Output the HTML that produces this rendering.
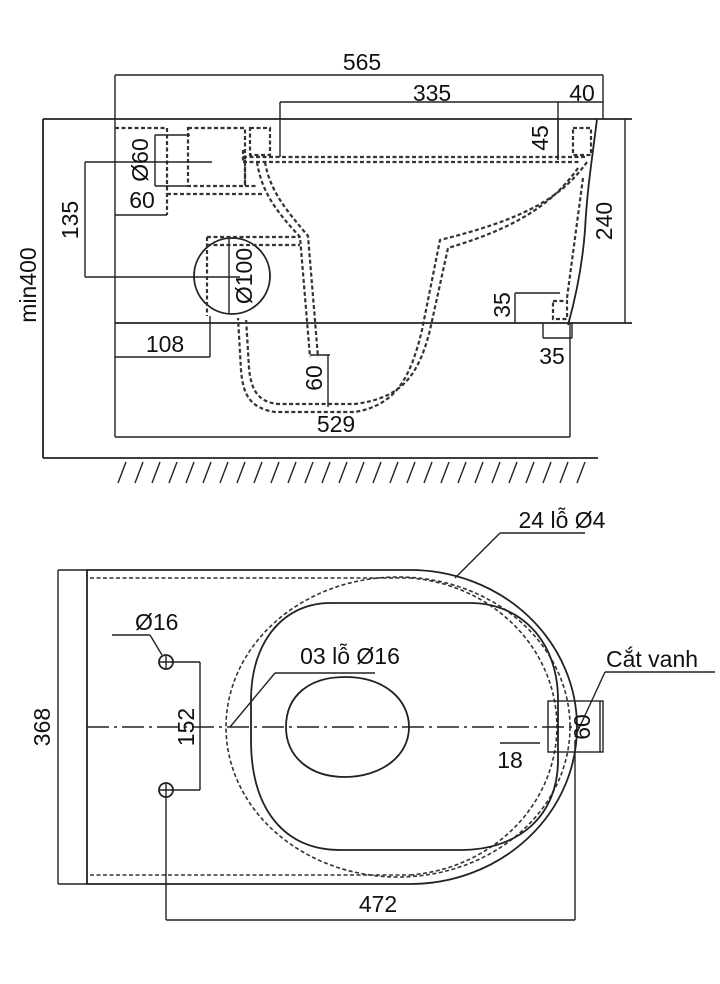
<!DOCTYPE html>
<html><head><meta charset="utf-8"><style>
html,body{margin:0;padding:0;background:#fff}
svg{display:block}
text{font-family:"Liberation Sans",sans-serif;font-size:23px;fill:#111}
.s{stroke:#222;stroke-width:1.8;fill:none}
.d{stroke:#333;stroke-width:2.2;fill:none;stroke-dasharray:4 2.5}
.t{stroke:#222;stroke-width:1.4;fill:none}
</style></head><body>
<svg width="720" height="984" viewBox="0 0 720 984" xmlns="http://www.w3.org/2000/svg">
<text x="362" y="70" text-anchor="middle">565</text>
<line class="t" x1="115" y1="75" x2="603" y2="75"/>
<text x="432" y="101" text-anchor="middle">335</text>
<line class="t" x1="280" y1="102" x2="558" y2="102"/>
<text x="582" y="101" text-anchor="middle">40</text>
<line class="t" x1="558" y1="102" x2="603" y2="102"/>
<line class="t" x1="115" y1="75" x2="115" y2="437"/>
<line class="t" x1="603" y1="75" x2="603" y2="119"/>
<line class="t" x1="280" y1="102" x2="280" y2="157"/>
<line class="t" x1="558" y1="102" x2="558" y2="160"/>
<line class="s" x1="43" y1="119" x2="632" y2="119"/>
<line class="s" x1="43" y1="119" x2="43" y2="458"/>
<line class="s" x1="43" y1="458" x2="598" y2="458"/>
<line class="t" x1="625" y1="119" x2="625" y2="323"/>
<line class="s" x1="115" y1="323" x2="632" y2="323"/>
<text transform="translate(612,221) rotate(-90)" text-anchor="middle">240</text>
<text transform="translate(36,285) rotate(-90)" text-anchor="middle">min400</text>
<g class="t">
<path d="M118 483 L126 462 M135 483 L143 462 M152 483 L160 462 M169 483 L177 462 M186 483 L194 462 M203 483 L211 462 M220 483 L228 462 M237 483 L245 462 M254 483 L262 462 M271 483 L279 462 M288 483 L296 462 M305 483 L313 462 M322 483 L330 462 M339 483 L347 462 M356 483 L364 462 M373 483 L381 462 M390 483 L398 462 M407 483 L415 462 M424 483 L432 462 M441 483 L449 462 M458 483 L466 462 M475 483 L483 462 M492 483 L500 462 M509 483 L517 462 M526 483 L534 462 M543 483 L551 462 M560 483 L568 462 M577 483 L585 462"/>
</g>
<path class="d" d="M115 128 H167 V215"/>
<line class="t" x1="155" y1="135" x2="155" y2="186"/>
<line class="t" x1="155" y1="135" x2="190" y2="135"/>
<line class="t" x1="155" y1="186" x2="190" y2="186"/>
<rect class="d" x="188" y="128" width="57" height="58"/>
<path class="d" d="M245 160 V186 H258"/>
<line class="t" x1="85" y1="162" x2="212" y2="162"/>
<line class="t" x1="85" y1="162" x2="85" y2="277"/>
<line class="t" x1="85" y1="277" x2="240" y2="277"/>
<text transform="translate(148,160) rotate(-90)" text-anchor="middle">Ø60</text>
<text transform="translate(78,220) rotate(-90)" text-anchor="middle">135</text>
<text x="142" y="208" text-anchor="middle">60</text>
<line class="t" x1="115" y1="215" x2="167" y2="215"/>
<line class="d" x1="167" y1="194" x2="262" y2="194"/>
<rect class="d" x="250" y="128" width="20" height="27"/>
<rect class="d" x="573" y="128" width="18" height="27"/>
<rect class="d" x="553" y="301" width="14" height="18"/>
<circle class="s" cx="232" cy="276" r="38"/>
<line class="t" x1="229" y1="238" x2="229" y2="314"/>
<text transform="translate(252,276) rotate(-90)" text-anchor="middle">Ø100</text>
<path class="d" d="M243 157 H587"/>
<path class="d" d="M243 162 H580"/>
<path class="d" d="M243 150 V162"/>
<path class="d" d="M257 162 C262 195 280 215 300 237 L310 357"/>
<path class="d" d="M265 162 C270 192 288 212 308 236 L318 357"/>
<path class="d" d="M207 237 H300 M207 245 H300 M207 237 V316"/>
<path class="d" d="M587 162 C560 200 520 220 440 240 L422 330 C410 380 395 405 355 412 H275 C250 408 243 395 241 370 L238 318"/>
<path class="d" d="M578 168 C552 205 515 228 448 248 L430 330 C418 378 400 398 355 404 H278 C258 402 251 390 249 368 L246 318"/>
<path class="d" d="M583 178 L567 298"/>
<path class="s" d="M597 119 C592 160 587 190 585 230 C582 270 575 300 568 325"/>
<text transform="translate(548,138) rotate(-90)" text-anchor="middle">45</text>
<line class="t" x1="558" y1="119" x2="558" y2="160"/>
<text transform="translate(510,305) rotate(-90)" text-anchor="middle">35</text>
<line class="t" x1="515" y1="293" x2="515" y2="323"/>
<line class="t" x1="515" y1="293" x2="560" y2="293"/>
<line class="t" x1="543" y1="323" x2="543" y2="338"/>
<line class="t" x1="572" y1="323" x2="572" y2="338"/>
<line class="t" x1="543" y1="338" x2="572" y2="338"/>
<text x="552" y="364" text-anchor="middle">35</text>
<text x="165" y="352" text-anchor="middle">108</text>
<line class="t" x1="115" y1="357" x2="210" y2="357"/>
<line class="t" x1="210" y1="316" x2="210" y2="357"/>
<line class="t" x1="310" y1="355" x2="330" y2="355"/>
<line class="t" x1="328" y1="355" x2="328" y2="407"/>
<text transform="translate(322,378) rotate(-90)" text-anchor="middle">60</text>
<text x="336" y="432" text-anchor="middle">529</text>
<line class="t" x1="115" y1="437" x2="570" y2="437"/>
<line class="t" x1="570" y1="323" x2="570" y2="437"/>

<text x="562" y="528" text-anchor="middle">24 lỗ Ø4</text>
<line class="t" x1="500" y1="533" x2="585" y2="533"/>
<line class="t" x1="500" y1="533" x2="455" y2="578"/>
<path class="s" d="M87 570 H410 A167 157 0 0 1 410 884 H87 Z"/>
<line class="t" x1="58" y1="570" x2="58" y2="884"/>
<line class="t" x1="58" y1="570" x2="87" y2="570"/>
<line class="t" x1="58" y1="884" x2="87" y2="884"/>
<text transform="translate(50,727) rotate(-90)" text-anchor="middle">368</text>
<path class="d" d="M90 578 H410 M90 875 H410" style="stroke-width:1.6"/>
<path class="d" d="M410 578 A160 149 0 0 1 410 875" style="stroke-width:1.6"/>
<ellipse class="d" cx="398" cy="727" rx="172" ry="150" style="stroke-width:1.6"/>
<path class="s" d="M330 603 H470 C520 603 558 640 558 700 V760 C558 815 520 850 460 850 H340 C285 850 251 810 251 740 V700 C251 640 285 603 330 603 Z"/>
<path class="s" d="M345 677 C385 677 409 700 409 727 C409 757 380 777 345 777 C310 777 286 757 286 727 C286 695 310 677 345 677 Z"/>
<line x1="87" y1="727" x2="580" y2="727" stroke="#222" stroke-width="1.4" stroke-dasharray="22 5 3 5"/>
<text x="135" y="630">Ø16</text>
<line class="t" x1="112" y1="635" x2="150" y2="635"/>
<line class="t" x1="150" y1="635" x2="162" y2="655"/>
<circle class="s" cx="166" cy="662" r="7"/><path class="t" d="M159 662 H173 M166 655 V669"/>
<circle class="s" cx="166" cy="790" r="7"/><path class="t" d="M159 790 H173 M166 783 V797"/>
<line class="t" x1="173" y1="662" x2="200" y2="662"/>
<line class="t" x1="173" y1="790" x2="200" y2="790"/>
<line class="t" x1="200" y1="662" x2="200" y2="790"/>
<text transform="translate(194,727) rotate(-90)" text-anchor="middle">152</text>
<text x="350" y="664" text-anchor="middle">03 lỗ Ø16</text>
<line class="t" x1="275" y1="673" x2="375" y2="673"/>
<line class="t" x1="275" y1="673" x2="230" y2="727"/>
<text x="652" y="667" text-anchor="middle">Cắt vanh</text>
<line class="t" x1="605" y1="672" x2="715" y2="672"/>
<line class="t" x1="605" y1="672" x2="575" y2="737"/>
<rect class="t" x="548" y="701" width="55" height="51"/>
<line class="t" x1="600" y1="701" x2="600" y2="752"/>
<text transform="translate(590,727) rotate(-90)" text-anchor="middle">60</text>
<line class="t" x1="500" y1="743" x2="540" y2="743"/>
<text x="510" y="768" text-anchor="middle">18</text>
<text x="378" y="912" text-anchor="middle">472</text>
<line class="t" x1="166" y1="920" x2="575" y2="920"/>
<line class="t" x1="166" y1="797" x2="166" y2="920"/>
<line class="t" x1="575" y1="740" x2="575" y2="920"/>
</svg>
</body></html>
